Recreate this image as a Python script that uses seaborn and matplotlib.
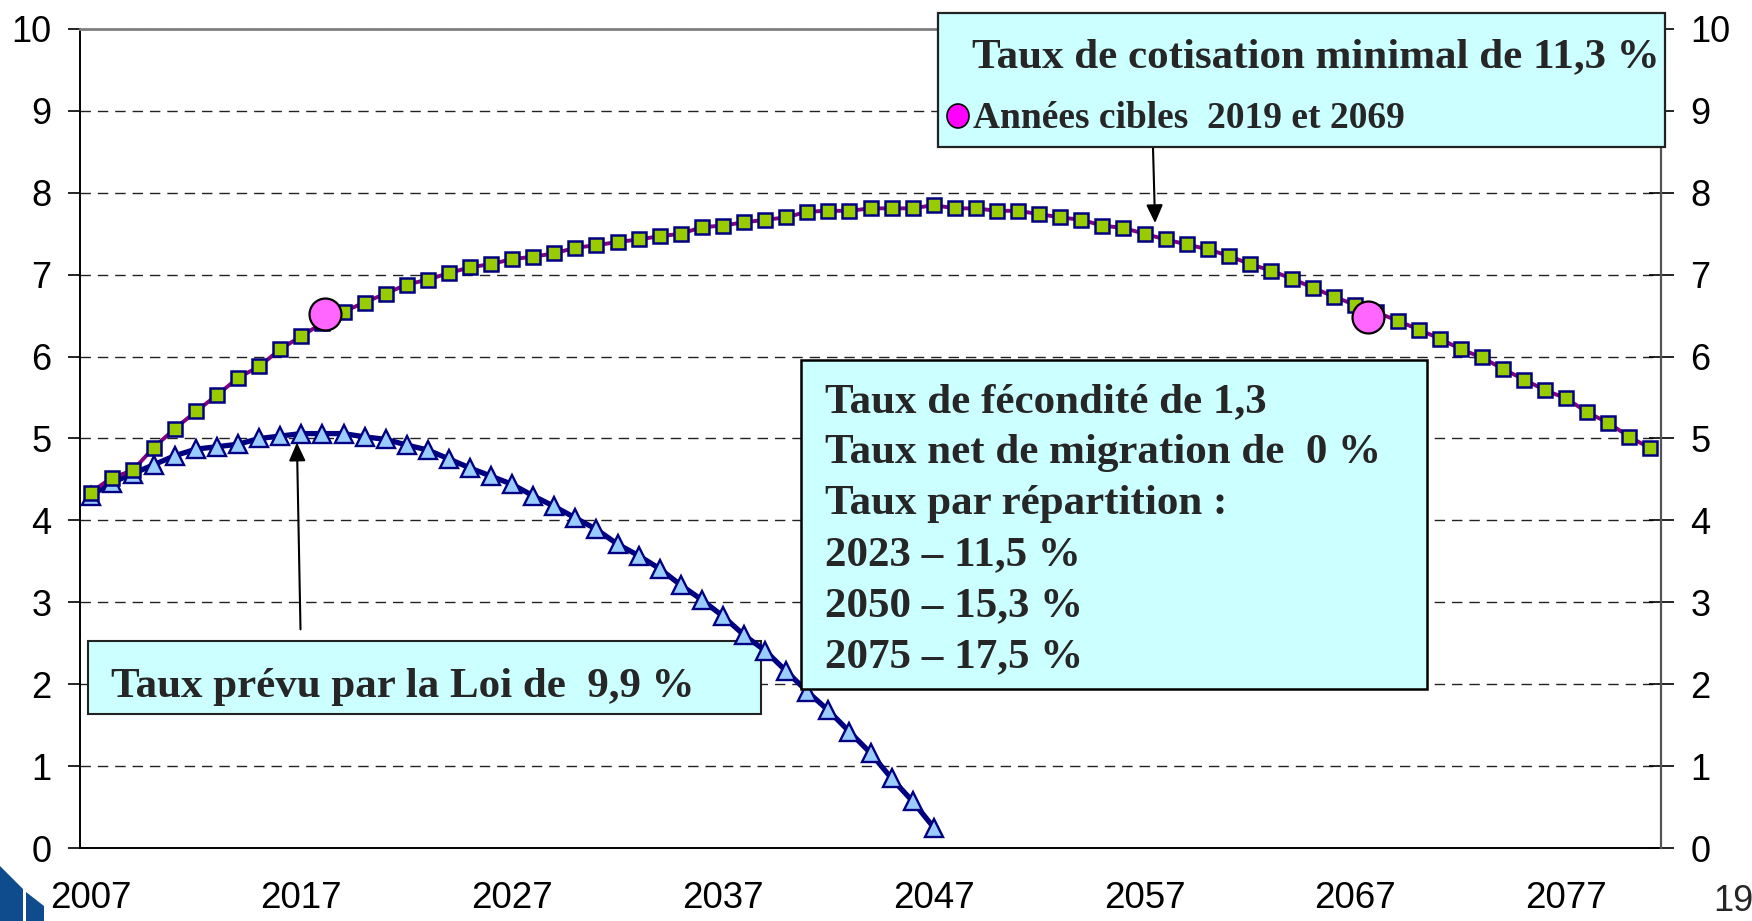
import numpy as np
import pandas as pd
import matplotlib
matplotlib.use("Agg")
import matplotlib.pyplot as plt
import seaborn as sns
from matplotlib.patches import Rectangle, Polygon, Ellipse

# ---------------- data ----------------
years_min = list(range(2007, 2082))
ratio_min = [4.34, 4.52, 4.61, 4.89, 5.12, 5.33, 5.53, 5.74, 5.88, 6.09,
             6.25, 6.41, 6.55, 6.66, 6.77, 6.88, 6.94, 7.02, 7.09, 7.13,
             7.19, 7.22, 7.26, 7.33, 7.36, 7.40, 7.43, 7.47, 7.50, 7.58,
             7.60, 7.64, 7.67, 7.70, 7.77, 7.78, 7.78, 7.81, 7.81, 7.81,
             7.85, 7.81, 7.81, 7.78, 7.78, 7.74, 7.70, 7.67, 7.60, 7.57,
             7.50, 7.43, 7.37, 7.31, 7.23, 7.13, 7.05, 6.95, 6.84, 6.73,
             6.63, 6.54, 6.44, 6.33, 6.22, 6.09, 5.99, 5.85, 5.72, 5.59,
             5.49, 5.32, 5.19, 5.02, 4.88]

years_law = list(range(2007, 2048))
ratio_law = [4.30, 4.46, 4.57, 4.68, 4.79, 4.87, 4.90, 4.93, 5.00, 5.03,
             5.06, 5.06, 5.06, 5.02, 4.99, 4.92, 4.86, 4.75, 4.64, 4.54,
             4.44, 4.30, 4.17, 4.03, 3.89, 3.71, 3.57, 3.41, 3.21, 3.03,
             2.83, 2.60, 2.41, 2.16, 1.91, 1.68, 1.42, 1.16, 0.85, 0.57,
             0.25]

target_years = [2018.1, 2067.6]
target_vals = [6.52, 6.48]

y_ticks = list(range(0, 11))
x_label_years = [2007, 2017, 2027, 2037, 2047, 2057, 2067, 2077]

box1_lines = ["Taux de cotisation minimal de 11,3 %", "Années cibles  2019 et 2069"]
box2_lines = ["Taux de fécondité de 1,3", "Taux net de migration de  0 %",
              "Taux par répartition :", "2023 – 11,5 %", "2050 – 15,3 %", "2075 – 17,5 %"]
box3_line = "Taux prévu par la Loi de  9,9 %"

# ---------------- style ----------------
W, H = 1752, 921
sns.set_style("white")
plt.rcParams["font.family"] = ["Liberation Sans", "DejaVu Sans"]

SERIF = ["Liberation Serif", "DejaVu Serif"]
BOXFILL = "#CCFFFF"


def fx(px):
    return px / W


def fy(py):
    return 1 - py / H


fig = plt.figure(figsize=(W / 100, H / 100), dpi=100)
ax = fig.add_axes([fx(80), fy(848), (1661 - 80) / W, (848 - 29) / H])
ax.set_xlim(2006.5, 2081.5)
ax.set_ylim(0, 10)

# gridlines
ax.set_yticks(y_ticks)
ax.yaxis.grid(True, color="#222222", lw=1.0, ls=(0, (7.5, 5)), zorder=1)
ax.xaxis.grid(False)
ax.set_axisbelow(True)

# series
df_min = pd.DataFrame({"year": years_min, "ratio": ratio_min})
df_law = pd.DataFrame({"year": years_law, "ratio": ratio_law})
df_tgt = pd.DataFrame({"year": target_years, "ratio": target_vals})

sns.lineplot(data=df_law, x="year", y="ratio", ax=ax, color="#000080", lw=3.8,
             marker="^", markersize=13, markerfacecolor="#99CCFF",
             markeredgecolor="#000080", markeredgewidth=1.7, zorder=5)
sns.lineplot(data=df_min, x="year", y="ratio", ax=ax, color="#800080", lw=2.8,
             marker="s", markersize=10.2, markerfacecolor="#99CC00",
             markeredgecolor="#000080", markeredgewidth=1.8, zorder=6)
sns.scatterplot(data=df_tgt, x="year", y="ratio", ax=ax, s=23 ** 2,
                color="#FF66FF", edgecolor="black", linewidth=1.6, zorder=7)

ax.set_xlabel("")
ax.set_ylabel("")

# axes / ticks
ax.set_xticks(x_label_years)
ax.set_xticklabels([str(y) for y in x_label_years])
ax.set_xticks(np.arange(2006.5, 2082, 5), minor=True)
ax.tick_params(axis="x", which="major", length=0, pad=24, labelsize=26.5, colors="black")
ax.tick_params(axis="x", which="minor", length=8, width=1.2, direction="out", color="black")
ax.tick_params(axis="y", which="major", left=True, length=8.6, width=1.2,
               direction="out", pad=12, labelsize=26, colors="black")

for s in ["left", "bottom"]:
    ax.spines[s].set_color("black")
    ax.spines[s].set_linewidth(1.4)
ax.spines["top"].set_color("#808080")
ax.spines["top"].set_linewidth(2.0)
ax.spines["right"].set_visible(False)

ax2 = ax.twinx()
ax2.set_ylim(0, 10)
ax2.set_yticks(y_ticks)
ax2.tick_params(axis="y", right=True, length=18, width=1.2, direction="inout",
                pad=12, labelsize=26, colors="black")
for s in ["left", "bottom", "top"]:
    ax2.spines[s].set_visible(False)
ax2.spines["right"].set_color("#555555")
ax2.spines["right"].set_linewidth(1.6)
ax2.grid(False)
ax2.patch.set_visible(False)

# box 3 (below series lines, above grid)
ax.add_patch(Rectangle((fx(88), fy(714)), (761 - 88) / W, (714 - 641) / H,
                       transform=fig.transFigure, facecolor=BOXFILL,
                       edgecolor="#222222", lw=1.5, zorder=3, clip_on=False))
ax.text(fx(111), fy(697), box3_line, transform=fig.transFigure, family=SERIF,
        weight="bold", fontsize=31, va="baseline", ha="left", zorder=8)

# arrows
arrow_style = dict(arrowstyle="-|>,head_length=0.55,head_width=0.25", color="black",
                   lw=1.5, mutation_scale=20, shrinkA=0, shrinkB=0)
ax.annotate("", xy=(2016.79, 4.95), xytext=(2016.96, 2.67), arrowprops=arrow_style,
            zorder=8)
ax.annotate("", xy=(2057.5, 7.63), xytext=(2057.4, 8.56), arrowprops=arrow_style,
            zorder=8, annotation_clip=False)

# box 1 (figure level, above everything)
fig.add_artist(Rectangle((fx(938), fy(147)), (1665 - 938) / W, (147 - 13) / H,
                         transform=fig.transFigure, facecolor=BOXFILL,
                         edgecolor="#222222", lw=1.6, zorder=10))
fig.text(fx(972), fy(67), box1_lines[0], family=SERIF, weight="bold", fontsize=31,
         va="baseline", ha="left", zorder=11)
fig.add_artist(Ellipse((fx(958), fy(116)), 22 / W, 24 / H,
                       transform=fig.transFigure,
                       facecolor="#FF00FF", edgecolor="black",
                       lw=1.2, zorder=11))
fig.text(fx(973), fy(128), box1_lines[1], family=SERIF, weight="bold", fontsize=27,
         va="baseline", ha="left", zorder=11)

# box 2
fig.add_artist(Rectangle((fx(801), fy(689)), (1427 - 801) / W, (689 - 360) / H,
                         transform=fig.transFigure, facecolor=BOXFILL,
                         edgecolor="black", lw=1.8, zorder=10))
for i, line in enumerate(box2_lines):
    fig.text(fx(825), fy(412 + 51 * i), line, family=SERIF, weight="bold",
             fontsize=31, va="baseline", ha="left", zorder=11)

# page number and logo fragment
fig.text(fx(1713), fy(919), "19", fontsize=26, va="bottom", ha="left")
fig.add_artist(Polygon([(fx(0), fy(866)), (fx(23), fy(889)), (fx(23), fy(921)),
                        (fx(0), fy(921))], closed=True, transform=fig.transFigure,
                       facecolor="#0E4C8E", edgecolor="none", zorder=10))
fig.add_artist(Polygon([(fx(26), fy(892)), (fx(44), fy(906)), (fx(44), fy(921)),
                        (fx(26), fy(921))], closed=True, transform=fig.transFigure,
                       facecolor="#0E4C8E", edgecolor="none", zorder=10))

fig.savefig("out.png", dpi=100)
